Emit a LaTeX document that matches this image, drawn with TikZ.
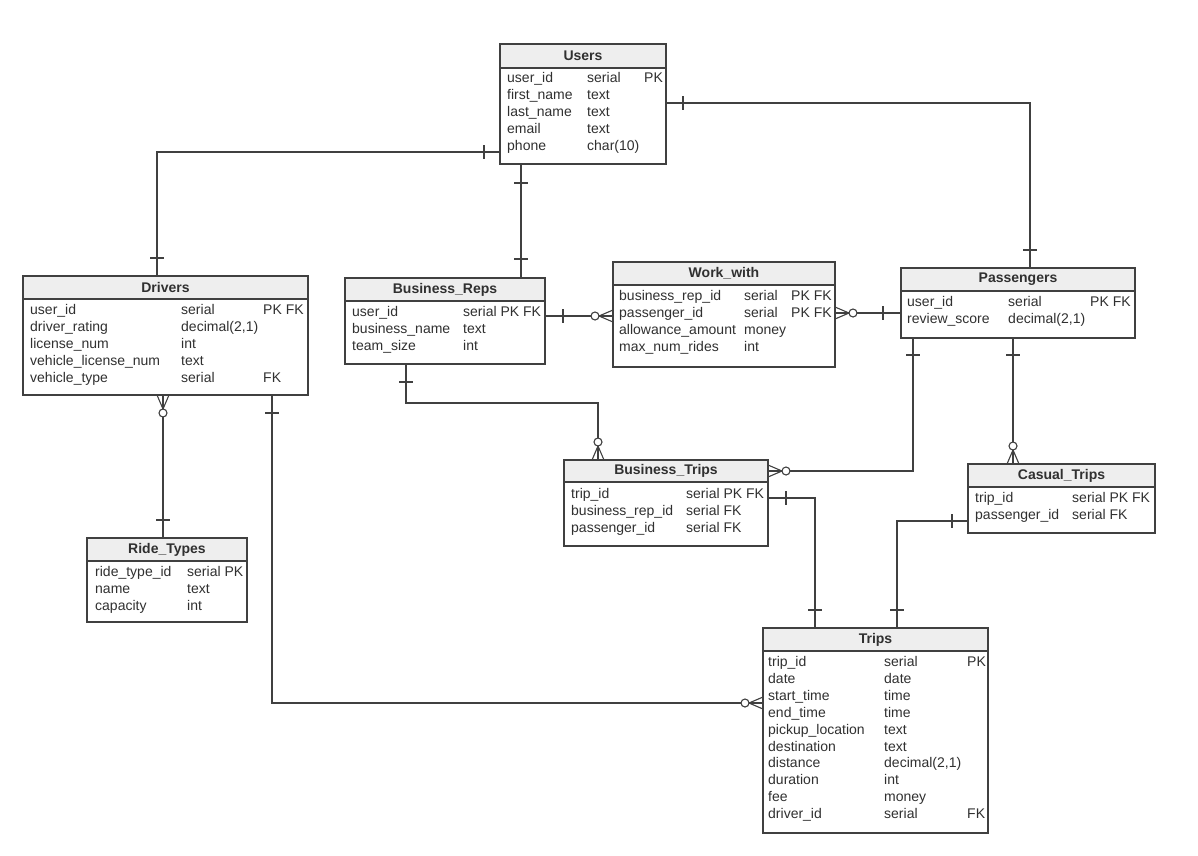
\documentclass[tikz,border=0pt]{standalone}
\usepackage{fontspec}
\setmainfont{Liberation Sans}
\usetikzlibrary{calc}
\definecolor{hdrgray}{HTML}{EEEEEE}
\definecolor{linegray}{HTML}{404040}
\definecolor{txtgray}{HTML}{303030}
\tikzset{
  tblbox/.style={draw=linegray, line width=1.3pt, fill=white, inner sep=0pt, outer sep=0pt, rectangle},
  conn/.style={draw=linegray, line width=1.1pt},
  cell/.style={anchor=west, inner sep=0pt, text=txtgray, font=\fontsize{14}{17}\selectfont, text height=10pt, text depth=3pt},
  ttl/.style={inner sep=0pt, text=txtgray, font=\fontsize{14}{17}\selectfont\bfseries},
}
\newcommand\ertbl[7]{%
  \node[tblbox, minimum width=#4pt, minimum height=#5pt, anchor=north west] (#1) at (#2,#3) {};
  \draw[draw=linegray, line width=1.3pt, fill=hdrgray] (#1.north west) rectangle ($(#1.north east)+(0,#6)$);
  \node[ttl] (#1-title) at ($(#1.north)+(0,{#6/2})$) {#7};
}
\newcommand\errows[6]{%
  \foreach \na/\ty/\ke [count=\i] in {#6}{%
    \node[cell] (#1-n\i) at (#3,{#2+16.9*(\i-1)}) {\na};
    \node[cell] (#1-t\i) at (#4,{#2+16.9*(\i-1)}) {\ty};
    \node[cell] (#1-k\i) at (#5,{#2+16.9*(\i-1)}) {\ke};
  }}
\newcommand\crowleft[2]{%
  \draw[conn] (#1,#2-6) -- (#1-14,#2) -- (#1,#2+6);
  \draw[conn, fill=white] (#1-18,#2) circle (4pt);}
\newcommand\crowright[2]{%
  \draw[conn] (#1,#2-6) -- (#1+14,#2) -- (#1,#2+6);
  \draw[conn, fill=white] (#1+18,#2) circle (4pt);}
\newcommand\crowtop[2]{%
  \draw[conn] (#1-6,#2) -- (#1,#2-14) -- (#1+6,#2);
  \draw[conn, fill=white] (#1,#2-18) circle (4pt);}
\newcommand\crowbottom[2]{%
  \draw[conn] (#1-6,#2) -- (#1,#2+14) -- (#1+6,#2);
  \draw[conn, fill=white] (#1,#2+18) circle (4pt);}
\newcommand\tickv[2]{\draw[conn] (#1,#2-7) -- (#1,#2+7);}
\newcommand\tickh[2]{\draw[conn] (#1-7,#2) -- (#1+7,#2);}
\begin{document}
\begin{tikzpicture}[x=1pt, y=-1pt]
\useasboundingbox (0,0) rectangle (1198,855);
\fill[white] (0,0) rectangle (1198,855);
% tables (boxes first so that connectors can use their names)
\ertbl{users}{500}{44}{166}{120}{24}{Users}
\ertbl{drivers}{23}{276}{285}{119}{23}{Drivers}
\ertbl{br}{345}{278}{200}{86}{23}{Business\_Reps}
\ertbl{ww}{613}{262}{222}{105}{23}{Work\_with}
\ertbl{pass}{901}{268}{234}{70}{23}{Passengers}
\ertbl{rt}{87}{538}{160}{84}{23}{Ride\_Types}
\ertbl{bt}{564}{460}{204}{86}{22}{Business\_Trips}
\ertbl{ct}{968}{464}{187}{69}{23}{Casual\_Trips}
\ertbl{trips}{763}{628}{225}{205}{23}{Trips}
% rows
\errows{users}{79}{507}{587}{644}{user\_id/serial/PK, first\_name/text/{}, last\_name/text/{}, email/text/{}, phone/char(10)/{}}
\errows{drivers}{311}{30}{181}{263}{user\_id/serial/PK FK, driver\_rating/{decimal(2,1)}/{}, license\_num/int/{}, vehicle\_license\_num/text/{}, vehicle\_type/serial/FK}
\errows{br}{313}{352}{463}{530}{user\_id/serial PK FK/{}, business\_name/text/{}, team\_size/int/{}}
\errows{ww}{297}{619}{744}{791}{business\_rep\_id/serial/PK FK, passenger\_id/serial/PK FK, allowance\_amount/money/{}, max\_num\_rides/int/{}}
\errows{pass}{303}{907}{1008}{1090}{user\_id/serial/PK FK, review\_score/{decimal(2,1)}/{}}
\errows{rt}{573}{95}{187}{240}{ride\_type\_id/serial PK/{}, name/text/{}, capacity/int/{}}
\errows{bt}{495}{571}{686}{760}{trip\_id/serial PK FK/{}, business\_rep\_id/serial FK/{}, passenger\_id/serial FK/{}}
\errows{ct}{499}{975}{1072}{1150}{trip\_id/serial PK FK/{}, passenger\_id/serial FK/{}}
\errows{trips}{663}{768}{884}{967}{trip\_id/serial/PK, date/date/{}, start\_time/time/{}, end\_time/time/{}, pickup\_location/text/{}, destination/text/{}, distance/{decimal(2,1)}/{}, duration/int/{}, fee/money/{}, driver\_id/serial/FK}
% connectors
\coordinate (b1) at (157,152);
\draw[conn] (users.west |- b1) -- (b1) -- (drivers.north -| b1);
\coordinate (b2) at (521,0);
\draw[conn] (users.south -| b2) -- (br.north -| b2);
\coordinate (b3) at (1030,103);
\draw[conn] (users.east |- b3) -- (b3) -- (pass.north -| b3);
\coordinate (b4) at (0,316);
\draw[conn] (br.east |- b4) -- (ww.west |- b4);
\coordinate (b5) at (0,313);
\draw[conn] (ww.east |- b5) -- (pass.west |- b5);
\coordinate (b6) at (163,0);
\draw[conn] (drivers.south -| b6) -- (rt.north -| b6);
\coordinate (b7) at (272,703);
\draw[conn] (drivers.south -| b7) -- (b7) -- (trips.west |- b7);
\coordinate (b8a) at (406,403);
\coordinate (b8b) at (598,403);
\draw[conn] (br.south -| b8a) -- (b8a) -- (b8b) -- (bt.north -| b8b);
\coordinate (b9) at (913,471);
\draw[conn] (pass.south -| b9) -- (b9) -- (bt.east |- b9);
\coordinate (b10) at (1013,0);
\draw[conn] (pass.south -| b10) -- (ct.north -| b10);
\coordinate (b11) at (815,498);
\draw[conn] (bt.east |- b11) -- (b11) -- (trips.north -| b11);
\coordinate (b12) at (897,521);
\draw[conn] (ct.west |- b12) -- (b12) -- (trips.north -| b12);
% ends
\tickv{484}{152} \tickh{157}{258}
\tickh{521}{183} \tickh{521}{259}
\tickv{683}{103} \tickh{1030}{250}
\tickv{563}{316} \crowleft{613}{316}
\crowright{835}{313} \tickv{883}{313}
\crowbottom{163}{395} \tickh{163}{520}
\tickh{272}{413} \crowleft{763}{703}
\tickh{406}{382} \crowtop{598}{460}
\tickh{913}{355} \crowright{768}{471}
\tickh{1013}{355} \crowtop{1013}{464}
\tickv{786}{498} \tickh{815}{610}
\tickv{952}{521} \tickh{897}{610}
\end{tikzpicture}
\end{document}
